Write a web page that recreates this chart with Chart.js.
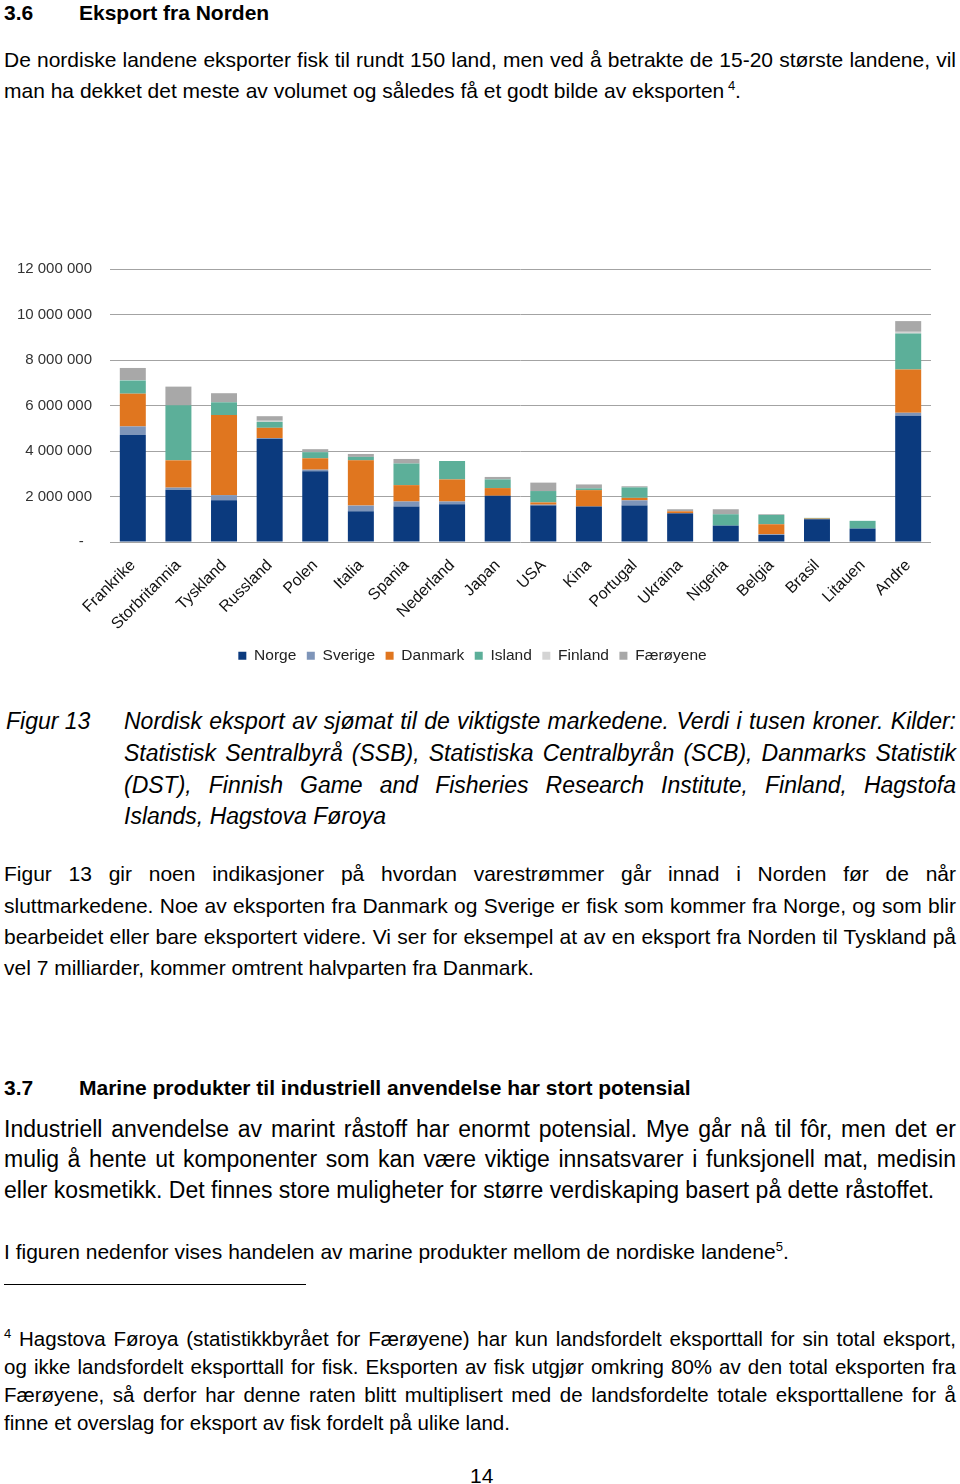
<!DOCTYPE html>
<html lang="no">
<head>
<meta charset="utf-8">
<title>Nordisk eksport av sjømat</title>
<script src="https://cdn.jsdelivr.net/npm/chart.js@4.4.1/dist/chart.umd.min.js"></script>
<style>
    html, body {
        margin: 0;
        padding: 0;
        background: #ffffff;
    }
    body {
        position: relative;
        width: 960px;
        height: 1484px;
        overflow: hidden;
        font-family: "Liberation Sans", Arial, Helvetica, sans-serif;
        color: #000000;
    }
    .ln {
        position: absolute;
        font-size: 21px;
        line-height: 1;
        white-space: nowrap;
    }
    .just {
        text-align: justify;
        text-align-last: justify;
    }
    .big { font-size: 23px; }
    .fn { font-size: 20.5px; }
    .it { font-style: italic; }
    .b { font-weight: bold; }
    .sup {
        position: relative;
        top: -8px;
        font-size: 13px;
    }
    #chartWrap {
        position: absolute;
        left: 0;
        top: 250px;
        width: 960px;
        height: 430px;
    }
</style>
</head>
<body>

<div class="ln b" style="left:4px; top:1.5px;">3.6</div>
<div class="ln b" style="left:79px; top:1.5px;">Eksport fra Norden</div>

<div class="ln just" style="left:4px; width:952px; top:48.5px;">De nordiske landene eksporter fisk til rundt 150 land, men ved å betrakte de 15-20 største landene, vil</div>
<div class="ln" style="left:4px; top:79.5px;">man ha dekket det meste av volumet og således få et godt bilde av eksporten<span class="sup"> 4</span>.</div>

<div id="chartWrap"><canvas id="chart"></canvas></div>

<div class="ln big it" style="left:6px; top:709.5px;">Figur 13</div>
<div class="ln big it just" style="left:124px; width:832px; top:709.5px;">Nordisk eksport av sjømat til de viktigste markedene. Verdi i tusen kroner. Kilder:</div>
<div class="ln big it just" style="left:124px; width:832px; top:741.5px;">Statistisk Sentralbyrå (SSB), Statistiska Centralbyrån (SCB), Danmarks Statistik</div>
<div class="ln big it just" style="left:124px; width:832px; top:773.5px;">(DST), Finnish Game and Fisheries Research Institute, Finland, Hagstofa</div>
<div class="ln big it" style="left:124px; top:804.5px;">Islands, Hagstova Føroya</div>

<div class="ln just" style="left:4px; width:952px; top:862.5px;">Figur 13 gir noen indikasjoner på hvordan varestrømmer går innad i Norden før de når</div>
<div class="ln just" style="left:4px; width:952px; top:894.5px;">sluttmarkedene. Noe av eksporten fra Danmark og Sverige er fisk som kommer fra Norge, og som blir</div>
<div class="ln just" style="left:4px; width:952px; top:925.5px;">bearbeidet eller bare eksportert videre. Vi ser for eksempel at av en eksport fra Norden til Tyskland på</div>
<div class="ln" style="left:4px; top:956.5px;">vel 7 milliarder, kommer omtrent halvparten fra Danmark.</div>

<div class="ln b" style="left:4px; top:1076.5px;">3.7</div>
<div class="ln b" style="left:79px; top:1076.5px;">Marine produkter til industriell anvendelse har stort potensial</div>

<div class="ln big just" style="left:4px; width:952px; top:1117.5px;">Industriell anvendelse av marint råstoff har enormt potensial. Mye går nå til fôr, men det er</div>
<div class="ln big just" style="left:4px; width:952px; top:1147.5px;">mulig å hente ut komponenter som kan være viktige innsatsvarer i funksjonell mat, medisin</div>
<div class="ln big" style="left:4px; top:1178.5px;">eller kosmetikk. Det finnes store muligheter for større verdiskaping basert på dette råstoffet.</div>

<div class="ln" style="left:4px; top:1240.5px;">I figuren nedenfor vises handelen av marine produkter mellom de nordiske landene<span class="sup">5</span>.</div>

<div style="position:absolute; left:4px; top:1284px; width:302px; height:1px; background:#000;"></div>

<div class="ln fn just" style="left:4px; width:952px; top:1328.5px;"><span class="sup">4</span> Hagstova Føroya (statistikkbyrået for Færøyene) har kun landsfordelt eksporttall for sin total eksport,</div>
<div class="ln fn just" style="left:4px; width:952px; top:1356.5px;">og ikke landsfordelt eksporttall for fisk. Eksporten av fisk utgjør omkring 80% av den total eksporten fra</div>
<div class="ln fn just" style="left:4px; width:952px; top:1384.5px;">Færøyene, så derfor har denne raten blitt multiplisert med de landsfordelte totale eksporttallene for å</div>
<div class="ln fn" style="left:4px; top:1412.5px;">finne et overslag for eksport av fisk fordelt på ulike land.</div>

<div class="ln" style="left:470px; top:1464.5px;">14</div>

<script>
// eksport i tusen kroner, lest av figuren
const markeder = ["Frankrike", "Storbritannia", "Tyskland", "Russland", "Polen", "Italia", "Spania",
    "Nederland", "Japan", "USA", "Kina", "Portugal", "Ukraina", "Nigeria", "Belgia", "Brasil",
    "Litauen", "Andre"];

const norge = [4700000, 2300000, 1830000, 4540000, 3110000, 1350000, 1560000, 1660000, 2030000,
    1600000, 1560000, 1600000, 1260000, 720000, 310000, 1000000, 590000, 5550000];
const sverige = [380000, 90000, 230000, 30000, 70000, 250000, 220000, 120000, 0,
    40000, 0, 230000, 0, 0, 30000, 0, 0, 130000];
const danmark = [1440000, 1200000, 3520000, 450000, 500000, 1990000, 720000, 970000, 340000,
    100000, 720000, 110000, 90000, 0, 440000, 30000, 0, 1900000];
const island = [580000, 2420000, 560000, 260000, 270000, 150000, 950000, 810000, 380000,
    500000, 80000, 460000, 0, 500000, 410000, 30000, 340000, 1580000];
const finland = [20000, 0, 0, 50000, 0, 0, 0, 0, 0,
    0, 0, 0, 0, 0, 0, 0, 0, 80000];
const faeroyene = [530000, 820000, 400000, 200000, 130000, 130000, 200000, 0, 110000,
    370000, 170000, 50000, 90000, 220000, 30000, 0, 0, 470000];

const yTicks = ["-", "2 000 000", "4 000 000", "6 000 000", "8 000 000", "10 000 000", "12 000 000"];

const FONT = '"Liberation Sans", Arial, Helvetica, sans-serif';

const datasets = [
    { label: "Norge", data: norge, backgroundColor: "#0b3a7e" },
    { label: "Sverige", data: sverige, backgroundColor: "#7e95b9" },
    { label: "Danmark", data: danmark, backgroundColor: "#e0761f" },
    { label: "Island", data: island, backgroundColor: "#5caf99" },
    { label: "Finland", data: finland, backgroundColor: "#d4d4d4" },
    { label: "Færøyene", data: faeroyene, backgroundColor: "#a8a8a8" },
].map((ds) => ({
    ...ds,
    borderWidth: 0,
    barPercentage: 0.57,
    categoryPercentage: 1,
}));

new Chart(document.getElementById("chart"), {
    type: "bar",
    data: { labels: markeder, datasets },
    options: {
        responsive: true,
        maintainAspectRatio: false,
        animation: false,
        layout: { padding: { top: 19, right: 29, bottom: 6.5, left: 14 } },
        plugins: {
            legend: {
                position: "bottom",
                labels: {
                    boxWidth: 8,
                    boxHeight: 8,
                    padding: 10.5,
                    color: "#222",
                    font: { family: FONT, size: 15.5 },
                },
            },
            tooltip: { enabled: false },
        },
        scales: {
            x: {
                stacked: true,
                grid: { display: false, drawTicks: false },
                border: { display: false },
                ticks: {
                    autoSkip: false,
                    maxRotation: 45,
                    minRotation: 45,
                    padding: 14,
                    color: "#111",
                    font: { family: FONT, size: 16 },
                },
                afterFit: (scale) => { scale.height = 95.5; },
            },
            y: {
                stacked: true,
                min: 0,
                max: 12000000,
                // usynlige tick-streker gir avstanden mellom tall og rutenett
                grid: {
                    color: "#a3a3a3",
                    lineWidth: 1,
                    drawTicks: true,
                    tickLength: 18,
                    tickColor: "rgba(0,0,0,0)",
                },
                border: { display: false },
                ticks: {
                    stepSize: 2000000,
                    padding: 0,
                    color: "#333",
                    font: { family: FONT, size: 15 },
                    callback: (value) => {
                        const label = yTicks[Math.round(value / 2000000)];
                        return label === "-" ? "-\u00a0\u00a0" : label;
                    },
                },
                afterFit: (scale) => { scale.width = 96; },
            },
        },
    },
});
</script>
</body>
</html>
